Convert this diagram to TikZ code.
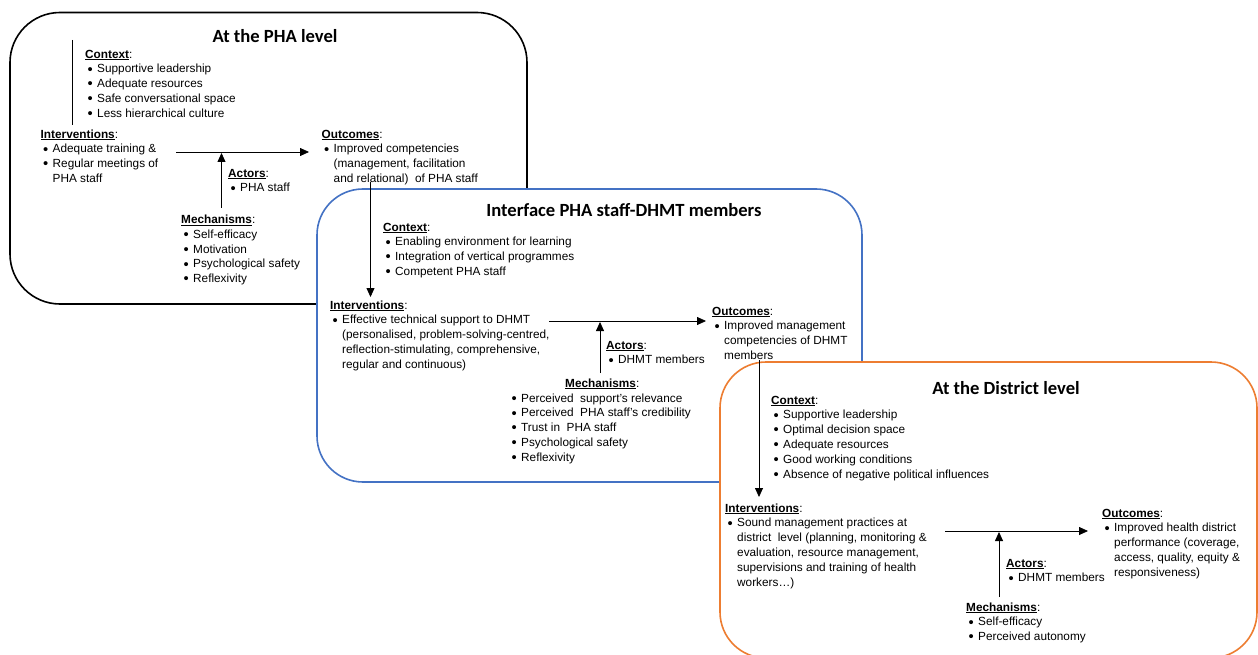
\documentclass[tikz,border=0pt]{standalone}
\usepackage{fontspec}
\usepackage{graphicx}
\setmainfont{Liberation Sans}
\newfontfamily\titlefont{Carlito}
\usetikzlibrary{arrows.meta}
\definecolor{boxblue}{HTML}{4472C4}
\definecolor{boxorange}{HTML}{ED7D31}
\newcommand{\bodyfont}{\fontsize{11.8}{14.8}\selectfont}
\newcommand{\hd}[1]{\strut\underline{\textbf{#1}}:}
\newcommand{\bl}[1]{\hspace*{2.5pt}\makebox[9.5pt][l]{\raisebox{-1.2pt}{\scalebox{1.25}{\textbullet}}}#1}
\newcommand{\cl}[1]{\hspace*{12pt}#1}
\tikzset{
  blk/.style={anchor=north west, inner sep=0pt, align=left, font=\bodyfont},
  ttl/.style={anchor=center, inner sep=0pt, font=\titlefont\bfseries\fontsize{18.6}{21}\selectfont},
  frame/.style={line width=1.6pt, rounded corners=46pt, fill=white},
  arr/.style={line width=0.8pt, -{Triangle[length=9pt,width=8pt]}},
  plain/.style={line width=0.8pt}
}
\begin{document}
\begin{tikzpicture}[x=1pt,y=-1pt]
\useasboundingbox (0,0) rectangle (1258,655);
% ---------------- Box 1 ----------------
\draw[frame, draw=black, rounded corners=50pt] (10,12.5) rectangle (527,304);
\node[ttl] (t1) at (275,36.5) {At the PHA level};
\node[blk] (c1) at (85,47.5) {\hd{Context}\\ \bl{Supportive leadership}\\ \bl{Adequate resources}\\ \bl{Safe conversational space}\\ \bl{Less hierarchical culture}};
\node[blk] (i1) at (40.5,127.5) {\hd{Interventions}\\ \bl{Adequate training \&}\\ \bl{Regular meetings of}\\ \cl{PHA staff}};
\node[blk] (o1) at (321.5,127.5) {\hd{Outcomes}\\ \bl{Improved competencies}\\ \cl{(management, facilitation}\\ \cl{and relational)\ \ of PHA staff}};
\node[blk] (a1) at (228,166.5) {\hd{Actors}\\ \bl{PHA staff}};
\node[blk] (m1) at (181,213) {\hd{Mechanisms}\\ \bl{Self-efficacy}\\ \bl{Motivation}\\ \bl{Psychological safety}\\ \bl{Reflexivity}};
\coordinate (l1a) at (72,40);
\coordinate (l1b) at (72,125.5);
\draw[plain] (l1a) -- (l1b);
\coordinate (i1e) at (176,152);
\coordinate (o1w) at (309,152);
\draw[arr] (i1e) -- (o1w);
\coordinate (m1n) at (221.5,208);
\coordinate (h1) at (221.5,153);
\draw[arr] (m1n) -- (h1);
% ---------------- Box 2 ----------------
\draw[frame, draw=boxblue] (317,189) rectangle (862,482);
\node[ttl] (t2) at (624,210) {Interface PHA staff-DHMT members};
\node[blk] (c2) at (383,220.5) {\hd{Context}\\ \bl{Enabling environment for learning}\\ \bl{Integration of vertical programmes}\\ \bl{Competent PHA staff}};
\node[blk] (i2) at (330,298.5) {\hd{Interventions}\\ \bl{Effective technical support to DHMT}\\ \cl{(personalised, problem-solving-centred,}\\ \cl{reflection-stimulating, comprehensive,}\\ \cl{regular and continuous)}};
\node[blk] (o2) at (712,304.5) {\hd{Outcomes}\\ \bl{Improved management}\\ \cl{competencies of DHMT}\\ \cl{members}};
\node[blk] (a2) at (606,338.5) {\hd{Actors}\\ \bl{DHMT members}};
\node[blk] (mh2) at (565,376.5) {\hd{Mechanisms}};
\node[blk] (m2) at (509,391.5) {\strut\bl{Perceived\ \ support’s relevance}\\ \bl{Perceived\ \ PHA staff’s credibility}\\ \bl{Trust in\ \ PHA staff}\\ \bl{Psychological safety}\\ \bl{Reflexivity}};
\coordinate (i2e) at (549,321);
\coordinate (o2w) at (706,321);
\draw[arr] (i2e) -- (o2w);
\coordinate (m2n) at (600,373);
\coordinate (h2) at (600,322);
\draw[arr] (m2n) -- (h2);
% arrow from box 1 outcomes to box 2 interventions
\coordinate (o1s) at (370.5,182);
\coordinate (i2n) at (370.5,297);
\draw[arr] (o1s) -- (i2n);
% ---------------- Box 3 ----------------
\draw[frame, draw=boxorange] (720,362) rectangle (1257,658);
\node[ttl] (t3) at (1006,388) {At the District level};
\node[blk] (c3) at (771,393.5) {\hd{Context}\\ \bl{Supportive leadership}\\ \bl{Optimal decision space}\\ \bl{Adequate resources}\\ \bl{Good working conditions}\\ \bl{Absence of negative political influences}};
\node[blk] (i3) at (725,501.5) {\hd{Interventions}\\ \bl{Sound management practices at}\\ \cl{district\ \ level (planning, monitoring \&}\\ \cl{evaluation, resource management,}\\ \cl{supervisions and training of health}\\ \cl{workers…)}};
\node[blk] (o3) at (1102,506.5) {\hd{Outcomes}\\ \bl{Improved health district}\\ \cl{performance (coverage,}\\ \cl{access, quality, equity \&}\\ \cl{responsiveness)}};
\node[blk] (a3) at (1006,556.5) {\hd{Actors}\\ \bl{DHMT members}};
\node[blk] (m3) at (966,600.5) {\hd{Mechanisms}\\ \bl{Self-efficacy}\\ \bl{Perceived autonomy}};
\coordinate (i3e) at (945,531);
\coordinate (o3w) at (1088,531);
\draw[arr] (i3e) -- (o3w);
\coordinate (m3n) at (999,597);
\coordinate (h3) at (999,532);
\draw[arr] (m3n) -- (h3);
% arrow from box 2 outcomes to box 3 interventions
\coordinate (o2s) at (759,360);
\coordinate (i3n) at (759,497);
\draw[arr] (o2s) -- (i3n);
\end{tikzpicture}
\end{document}
